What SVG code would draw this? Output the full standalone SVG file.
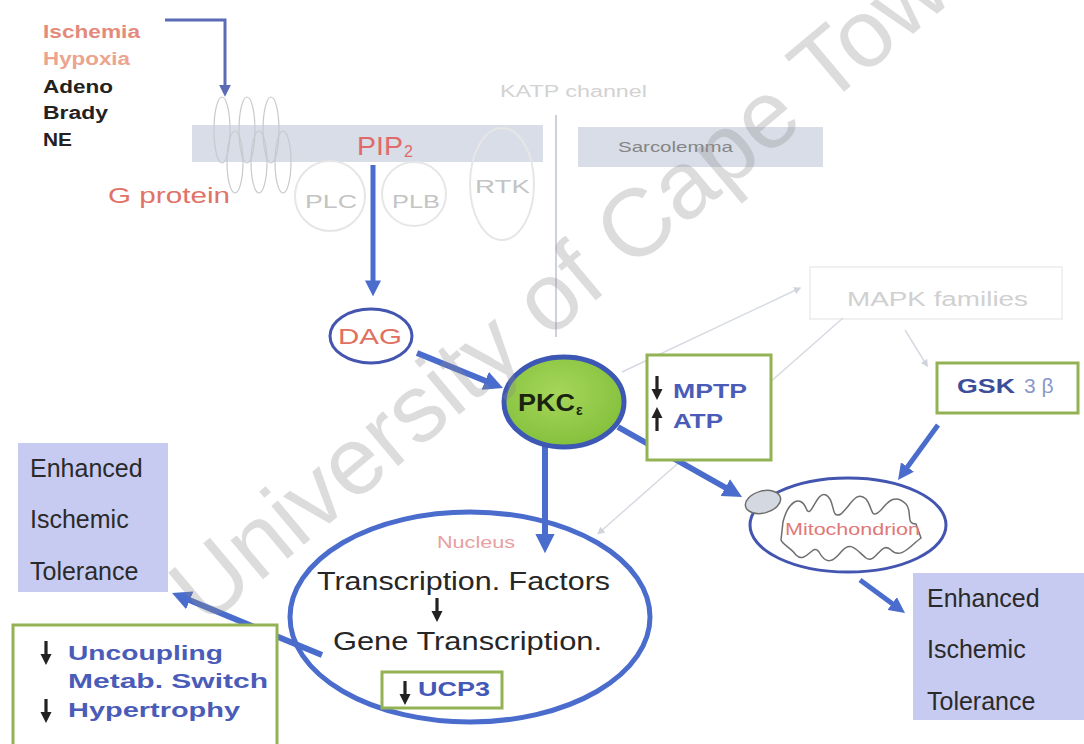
<svg xmlns="http://www.w3.org/2000/svg" width="1084" height="744" viewBox="0 0 1084 744">
  <style>
    text { font-family: "Liberation Sans", Arial, sans-serif; }
    .b { font-weight: bold; }
    .stim { font-size: 18px; font-weight: bold; }
    .red { fill: #e07268; }
    .faint { fill: #c4c4c4; font-size: 19px; }
    .enh { font-size: 25px; fill: #2a2a2a; }
    .nuc { font-size: 25px; fill: #262626; }
    .blueB { font-weight: bold; fill: #4a5cb8; font-size: 21px; }
    .arrow { stroke: #4a6ccc; stroke-width: 6; fill: none; marker-end: url(#head); }
    .arrow5 { stroke: #4a6ccc; stroke-width: 5; fill: none; marker-end: url(#head); }
    .thin { stroke: #d6dae2; stroke-width: 1.5; fill: none; marker-end: url(#fhead); }
    .gbox { fill: #ffffff; stroke: #92b254; stroke-width: 3; }
    .lav { fill: #c7cbf1; }
    .memb { fill: #d8dde7; }
    .loop { fill: none; stroke: #c8c9ce; stroke-width: 1.2; }
    .prot { fill: none; stroke: #e6e6e6; stroke-width: 2; }
  </style>
  <defs>
    <marker id="head" viewBox="0 0 10 10" refX="1" refY="5" markerWidth="3.2" markerHeight="3.2" orient="auto" markerUnits="strokeWidth">
      <path d="M0,0 L10,5 L0,10 z" fill="#4a6ccc"/>
    </marker>
    <marker id="shead" viewBox="0 0 10 10" refX="1" refY="5" markerWidth="4" markerHeight="4" orient="auto" markerUnits="strokeWidth">
      <path d="M0,0 L10,5 L0,10 z" fill="#5b6bb5"/>
    </marker>
    <marker id="fhead" viewBox="0 0 10 10" refX="5" refY="5" markerWidth="5" markerHeight="5" orient="auto" markerUnits="strokeWidth">
      <path d="M0,0 L10,5 L0,10 z" fill="#d0d4dc"/>
    </marker>
    <!-- small black down arrow used in the text boxes -->
    <path id="dn" d="M-1.6,0 H1.6 V13 H5.5 L0,24 L-5.5,13 H-1.6 Z" fill="#222"/>
    <radialGradient id="pkcFill" cx="0.45" cy="0.4" r="0.65">
      <stop offset="0" stop-color="#a6d65a"/>
      <stop offset="1" stop-color="#82bf3a"/>
    </radialGradient>
  </defs>

  <rect width="1084" height="744" fill="#ffffff"/>

  <!-- membrane -->
  <g id="membrane">
    <rect class="memb" x="192" y="125" width="351" height="37"/>
    <rect class="memb" x="578" y="127" width="245" height="40"/>
    <line x1="556" y1="115" x2="556" y2="337" stroke="#cdd1da" stroke-width="2"/>
    <text x="500" y="97" font-size="16" fill="#d2d2d2" textLength="147" lengthAdjust="spacingAndGlyphs">KATP channel</text>
    <text x="618" y="152" font-size="15" fill="#858585" textLength="115" lengthAdjust="spacingAndGlyphs">Sarcolemma</text>
  </g>

  <!-- seven-transmembrane receptor -->
  <g id="receptor">
    <ellipse class="loop" cx="222" cy="130" rx="8" ry="33"/>
    <ellipse class="loop" cx="247" cy="130" rx="8" ry="33"/>
    <ellipse class="loop" cx="271" cy="130" rx="8" ry="33"/>
    <ellipse class="loop" cx="235" cy="162" rx="8" ry="31"/>
    <ellipse class="loop" cx="259" cy="162" rx="8" ry="31"/>
    <ellipse class="loop" cx="283" cy="162" rx="8" ry="31"/>
  </g>

  <g id="stimuli">
    <text class="stim" x="43" y="38" fill="#e48a7c" textLength="97" lengthAdjust="spacingAndGlyphs">Ischemia</text>
    <text class="stim" x="43" y="65" fill="#eca48e" textLength="87" lengthAdjust="spacingAndGlyphs">Hypoxia</text>
    <text class="stim" x="43" y="93" fill="#222" textLength="70" lengthAdjust="spacingAndGlyphs">Adeno</text>
    <text class="stim" x="43" y="119" fill="#222" textLength="65" lengthAdjust="spacingAndGlyphs">Brady</text>
    <text class="stim" x="43" y="146" fill="#222" textLength="29" lengthAdjust="spacingAndGlyphs">NE</text>
  </g>

  <g id="gprotein">
    <text x="108" y="203" font-size="22" class="red" textLength="122" lengthAdjust="spacingAndGlyphs">G protein</text>
  </g>

  <g id="pip2">
    <text x="357" y="155" font-size="25" fill="#e06a6a" textLength="46" lengthAdjust="spacingAndGlyphs">PIP</text>
    <text x="404" y="157" font-size="16" fill="#e06a6a">2</text>
  </g>

  <g id="plc">
    <circle class="prot" cx="330" cy="196" r="35"/>
    <text class="faint" x="305" y="208" textLength="52" lengthAdjust="spacingAndGlyphs">PLC</text>
  </g>
  <g id="plb">
    <circle class="prot" cx="414" cy="194" r="32"/>
    <text class="faint" x="392" y="208" textLength="48" lengthAdjust="spacingAndGlyphs">PLB</text>
  </g>
  <g id="rtk">
    <ellipse class="prot" cx="502" cy="184" rx="32" ry="56"/>
    <text class="faint" x="475" y="193" textLength="55" lengthAdjust="spacingAndGlyphs">RTK</text>
  </g>

  <g id="mapk">
    <rect x="810" y="267" width="252" height="52" fill="none" stroke="#ececec" stroke-width="1.5"/>
    <text x="847" y="306" font-size="20" fill="#d0d0d0" textLength="181" lengthAdjust="spacingAndGlyphs">MAPK families</text>
  </g>

  <!-- connectors -->
  <g id="connectors">
    <line class="thin" x1="622" y1="372" x2="798" y2="289"/>
    <line class="thin" x1="905" y1="330" x2="926" y2="364"/>
    <line class="thin" x1="843" y1="318" x2="600" y2="532" marker-end="none"/>
    <path d="M165,20 H225 V86" stroke="#5b6bb5" stroke-width="3" fill="none" marker-end="url(#shead)"/>
    <line class="arrow5" x1="373" y1="165" x2="373" y2="282"/>
    <line class="arrow" x1="417" y1="353" x2="487" y2="381.5"/>
    <line class="arrow" x1="545" y1="446" x2="545" y2="536"/>
    <line class="arrow" x1="322" y1="655" x2="188" y2="599.6"/>
    <line class="arrow" x1="618" y1="427" x2="727" y2="488.5"/>
    <line class="arrow5" x1="938" y1="425" x2="906.5" y2="468.3"/>
    <line class="arrow5" x1="860" y1="580" x2="893.4" y2="604.5"/>
  </g>

  <g id="dag">
    <ellipse cx="371" cy="336" rx="41" ry="27" fill="#ffffff" stroke="#4455b0" stroke-width="3"/>
    <text x="338" y="344" font-size="22" fill="#e07060" textLength="64" lengthAdjust="spacingAndGlyphs">DAG</text>
  </g>

  <g id="pkc">
    <ellipse cx="564" cy="402" rx="60" ry="45" fill="url(#pkcFill)" stroke="#3c58b4" stroke-width="5"/>
    <text x="518" y="411" font-size="24" class="b" fill="#18240f" textLength="57" lengthAdjust="spacingAndGlyphs">PKC</text>
    <text x="576" y="415" font-size="14" class="b" fill="#18240f">ε</text>
  </g>

  <g id="mptp">
    <rect class="gbox" x="647" y="355" width="124" height="105"/>
    <use href="#dn" x="657" y="376"/>
    <use href="#dn" transform="translate(657,431) rotate(180)"/>
    <text class="blueB" x="673" y="398" textLength="74" lengthAdjust="spacingAndGlyphs">MPTP</text>
    <text class="blueB" x="673" y="428" textLength="50" lengthAdjust="spacingAndGlyphs">ATP</text>
  </g>

  <g id="gsk">
    <rect class="gbox" x="937" y="363" width="141" height="50"/>
    <text x="957" y="393" font-size="21" class="b" fill="#3c4e9a" textLength="58" lengthAdjust="spacingAndGlyphs">GSK</text>
    <text x="1024" y="393" font-size="21" fill="#8a98cc" font-family="Liberation Serif, serif">3 β</text>
  </g>

  <g id="nucleus">
    <ellipse cx="470" cy="617" rx="180" ry="105" fill="none" stroke="#4a6ccc" stroke-width="5"/>
    <text x="437" y="548" font-size="16" fill="#e8a0a0" textLength="78" lengthAdjust="spacingAndGlyphs">Nucleus</text>
    <text class="nuc" x="317" y="590" textLength="293" lengthAdjust="spacingAndGlyphs">Transcription. Factors</text>
    <use href="#dn" x="437" y="598"/>
    <text class="nuc" x="333" y="650" textLength="269" lengthAdjust="spacingAndGlyphs">Gene Transcription.</text>
    <rect class="gbox" x="382" y="672" width="120" height="36"/>
    <use href="#dn" x="405" y="681"/>
    <text x="418" y="696" font-size="20" class="b" fill="#4458b8" textLength="72" lengthAdjust="spacingAndGlyphs">UCP3</text>
  </g>

  <g id="mitochondrion">
    <ellipse cx="848" cy="525" rx="98" ry="47" fill="#ffffff" stroke="#4455b0" stroke-width="3"/>
    <path d="M783,522 C788,502 800,494 806,508 C811,522 816,490 826,495 C836,500 830,520 841,514 C851,505 856,490 866,499 C873,507 870,521 881,510 C889,500 896,494 906,504 C913,512 905,524 916,524 L921,538 C911,545 901,560 891,550 C881,540 876,565 866,558 C856,550 851,540 841,552 C833,562 826,565 819,552 C813,542 806,565 796,555 C791,548 783,545 781,540 Z" fill="none" stroke="#6e6e6e" stroke-width="1.5"/>
    <ellipse cx="763" cy="502" rx="18" ry="11" transform="rotate(-15 763 502)" fill="#d4d8e0" stroke="#6e6e6e" stroke-width="1.5"/>
    <text x="785" y="535" font-size="16" fill="#e07878" textLength="135" lengthAdjust="spacingAndGlyphs">Mitochondrion</text>
  </g>

  <g id="tolerance-left">
    <rect class="lav" x="18" y="443" width="150" height="149"/>
    <text class="enh" x="30" y="477">Enhanced</text>
    <text class="enh" x="30" y="528">Ischemic</text>
    <text class="enh" x="30" y="580">Tolerance</text>
  </g>

  <g id="tolerance-right">
    <rect class="lav" x="913" y="573" width="171" height="147"/>
    <text class="enh" x="927" y="607">Enhanced</text>
    <text class="enh" x="927" y="658">Ischemic</text>
    <text class="enh" x="927" y="710">Tolerance</text>
  </g>

  <g id="effects">
    <rect class="gbox" x="13" y="625" width="264" height="125"/>
    <use href="#dn" x="46" y="641"/>
    <use href="#dn" x="46" y="699"/>
    <text class="blueB" x="68" y="660" textLength="155" lengthAdjust="spacingAndGlyphs">Uncoupling</text>
    <text class="blueB" x="68" y="688" textLength="200" lengthAdjust="spacingAndGlyphs">Metab. Switch</text>
    <text class="blueB" x="68" y="717" textLength="172" lengthAdjust="spacingAndGlyphs">Hypertrophy</text>
  </g>

  <!-- diagonal watermark -->
  <text x="205" y="628" font-size="96" fill="#8c8c8c" fill-opacity="0.3" transform="rotate(-40 205 628)">University of Cape Town</text>
</svg>
